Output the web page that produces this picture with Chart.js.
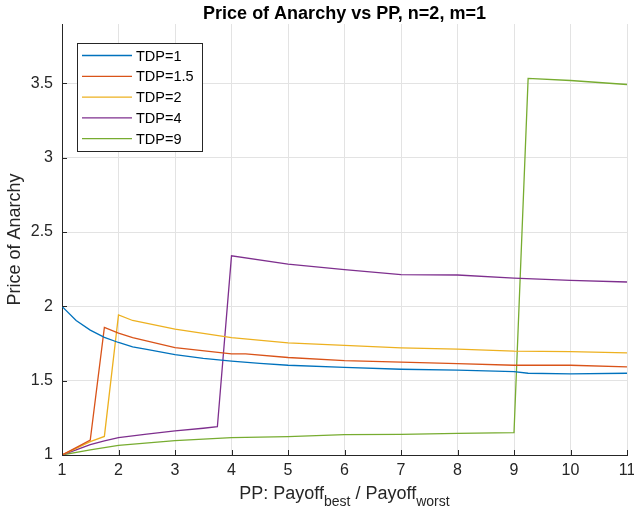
<!DOCTYPE html>
<html>
<head>
<meta charset="utf-8">
<script src="https://cdn.jsdelivr.net/npm/chart.js@4/dist/chart.umd.min.js"></script>
<style>
html,body{margin:0;padding:0;background:#fff;}
#wrap{width:634px;height:518px;}
</style>
</head>
<body>
<div id="wrap"><canvas id="c" width="634" height="518"></canvas></div>
<script>
// ---- data ----
const titleText = "Price of Anarchy vs PP, n=2, m=1";
const seriesNames = ["TDP=1", "TDP=1.5", "TDP=2", "TDP=4", "TDP=9"];
const seriesColors = ["#0072BD", "#D95319", "#EDB120", "#7E2F8E", "#77AC30"];

const xTDP1 = [1,1.25,1.5,1.75,2,2.25,2.5,3,3.5,4,4.5,5,6,7,8,9,9.25,10,11];
const yTDP1 = [2.0,1.905,1.84,1.792,1.757,1.728,1.71,1.675,1.65,1.632,1.617,1.604,1.59,1.577,1.571,1.561,1.55,1.546,1.55];

const xTDP15 = [1,1.25,1.5,1.75,2,2.25,3,4,4.25,5,6,7,8,9,10,11];
const yTDP15 = [1,1.05,1.10,1.858,1.82,1.79,1.723,1.68,1.68,1.656,1.635,1.625,1.615,1.604,1.604,1.593];

const xTDP2 = [1,1.25,1.5,1.75,2,2.25,3,4,5,6,7,8,9,10,11];
const yTDP2 = [1,1.045,1.09,1.125,1.943,1.905,1.847,1.79,1.755,1.737,1.721,1.712,1.699,1.696,1.687];

const xTDP4 = [1,1.25,1.5,1.75,2,2.5,3,3.5,3.75,4,5,6,7,8,9,10,11];
const yTDP4 = [1,1.035,1.07,1.095,1.117,1.14,1.162,1.18,1.19,2.34,2.285,2.247,2.213,2.211,2.19,2.175,2.164];

const xTDP9 = [1,1.5,2,3,4,5,6,7,8,9,9.25,10,11];
const yTDP9 = [1,1.035,1.065,1.097,1.117,1.124,1.137,1.139,1.146,1.15,3.534,3.52,3.493];

const xTicks = [1,2,3,4,5,6,7,8,9,10,11];
const yTicks = [1,1.5,2,2.5,3,3.5];

// ---- build ----
const xsAll = [xTDP1, xTDP15, xTDP2, xTDP4, xTDP9];
const ysAll = [yTDP1, yTDP15, yTDP2, yTDP4, yTDP9];
const datasets = seriesNames.map((n, i) => ({
  label: n,
  data: xsAll[i].map((x, j) => ({x: x, y: ysAll[i][j]})),
  borderColor: seriesColors[i],
  backgroundColor: seriesColors[i],
  borderWidth: 1.3,
  pointRadius: 0,
  tension: 0,
  fill: false
}));

const FONT = "'Liberation Sans', Arial, Helvetica, sans-serif";
const AXC = "#262626";

const decor = {
  id: 'decor',
  afterDatasetsDraw(chart) {
    const ctx = chart.ctx;
    const xs = chart.scales.x, ys = chart.scales.y;
    const a = chart.chartArea;
    ctx.save();
    // inward ticks
    ctx.strokeStyle = AXC;
    ctx.lineWidth = 1;
    ctx.beginPath();
    xTicks.forEach(v => {
      const px = Math.round(xs.getPixelForValue(v)) + 0.5;
      ctx.moveTo(px, a.bottom);
      ctx.lineTo(px, a.bottom - 5);
    });
    yTicks.forEach(v => {
      const py = Math.round(ys.getPixelForValue(v)) + 0.5;
      ctx.moveTo(a.left, py);
      ctx.lineTo(a.left + 5, py);
    });
    ctx.stroke();

    // legend
    const lx = 77, ly = 43, lw = 125, lh = 108;
    ctx.fillStyle = "#fff";
    ctx.fillRect(lx, ly, lw, lh);
    ctx.strokeStyle = "#262626";
    ctx.lineWidth = 1;
    ctx.strokeRect(lx + 0.5, ly + 0.5, lw, lh);
    ctx.font = "14.5px " + FONT;
    ctx.textBaseline = "middle";
    ctx.textAlign = "left";
    seriesNames.forEach((n, i) => {
      const yy = 55.5 + i * 20.8;
      ctx.strokeStyle = seriesColors[i];
      ctx.lineWidth = 1.3;
      ctx.beginPath();
      ctx.moveTo(82, yy);
      ctx.lineTo(132, yy);
      ctx.stroke();
      ctx.fillStyle = "#000";
      ctx.fillText(n, 136, yy + 1);
    });

    // title
    ctx.fillStyle = "#000";
    ctx.font = "bold 18px " + FONT;
    ctx.textAlign = "center";
    ctx.textBaseline = "alphabetic";
    ctx.fillText(titleText, (a.left + a.right) / 2, 19);

    // y axis title
    ctx.save();
    ctx.translate(20, (a.top + a.bottom) / 2);
    ctx.rotate(-Math.PI / 2);
    ctx.font = "18px " + FONT;
    ctx.fillStyle = AXC;
    ctx.textAlign = "center";
    ctx.textBaseline = "alphabetic";
    ctx.fillText("Price of Anarchy", 0, 0);
    ctx.restore();

    // x axis title with subscripts
    const parts = [
      {t: "PP: Payoff", sub: false},
      {t: "best", sub: true},
      {t: " / Payoff", sub: false},
      {t: "worst", sub: true}
    ];
    const mainF = "18px " + FONT, subF = "14px " + FONT;
    let total = 0;
    parts.forEach(p => { ctx.font = p.sub ? subF : mainF; p.w = ctx.measureText(p.t).width; total += p.w; });
    let cx = (a.left + a.right) / 2 - total / 2;
    const base = 499;
    ctx.fillStyle = AXC;
    ctx.textAlign = "left";
    parts.forEach(p => {
      ctx.font = p.sub ? subF : mainF;
      ctx.fillText(p.t, cx, p.sub ? base + 7 : base);
      cx += p.w;
    });
    ctx.restore();
  }
};

new Chart(document.getElementById('c'), {
  type: 'line',
  data: { datasets },
  options: {
    responsive: false,
    animation: false,
    devicePixelRatio: 1,
    layout: { padding: { left: 0, right: 7, top: 24, bottom: 0 } },
    plugins: { legend: { display: false }, title: { display: false }, tooltip: { enabled: false } },
    scales: {
      x: {
        type: 'linear',
        min: 1, max: 11,
        afterFit(s) { s.height = 63; s.paddingLeft = 0; s.paddingRight = 0; },
        afterBuildTicks(s) { s.ticks = xTicks.map(v => ({value: v})); },
        ticks: { font: { size: 16, family: FONT }, color: AXC, padding: 6, maxRotation: 0, autoSkip: false },
        grid: { color: "#e3e3e3", lineWidth: 1, drawTicks: false },
        border: { display: true, color: AXC, width: 1 }
      },
      y: {
        type: 'linear',
        min: 1, max: 3.9,
        afterFit(s) { s.width = 62; s.paddingTop = 0; s.paddingBottom = 0; },
        afterBuildTicks(s) { s.ticks = yTicks.map(v => ({value: v})); },
        ticks: { font: { size: 16, family: FONT }, color: AXC, padding: 9, callback: v => String(v) },
        grid: { color: "#e3e3e3", lineWidth: 1, drawTicks: false },
        border: { display: true, color: AXC, width: 1 }
      }
    }
  },
  plugins: [decor]
});
</script>
</body>
</html>
